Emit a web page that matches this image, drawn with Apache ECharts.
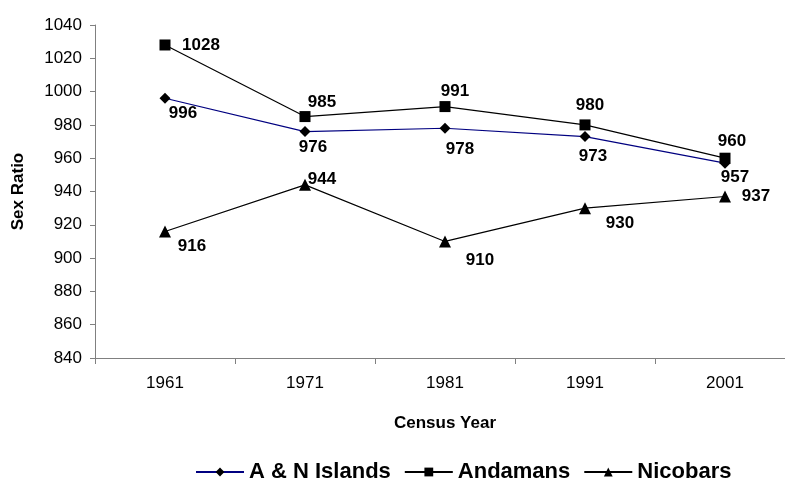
<!DOCTYPE html>
<html>
<head>
<meta charset="utf-8">
<script src="https://cdn.jsdelivr.net/npm/echarts@6/dist/echarts.min.js"></script>
<style>
  html, body { margin: 0; padding: 0; background: #fff; overflow: hidden; }
  #chart { width: 795px; height: 479px; }
</style>
</head>
<body>
<div id="chart"></div>
<script>
const years = ["1961", "1971", "1981", "1991", "2001"];
const anIslands = [996, 976, 978, 973, 957];
const andamans = [1028, 985, 991, 980, 960];
const nicobars = [916, 944, 910, 930, 937];

// label offsets (px) relative to each marker, as placed in the original
const anOffsets = [[18, 15], [8, 16], [15, 21], [8, 20], [10, 14]];
const andOffsets = [[36, 0], [17, -14], [10, -15], [5, -20], [7, -17]];
const nicOffsets = [[27, 15], [17, -6], [35, 19], [35, 15], [31, 0]];

const font = "Liberation Sans, Arial, sans-serif";
const labelStyle = { color: "#000", fontSize: 17, fontWeight: "bold", fontFamily: font };
const axisGrey = "#808080";

function withLabels(values, offsets) {
  return values.map((v, i) => ({
    value: v,
    label: { show: true, position: "inside", offset: offsets[i], ...labelStyle },
  }));
}

// the plot runs 10px past the window's right edge, like the original
const chart = echarts.init(document.getElementById("chart"));
chart.setOption({
  animation: false,
  grid: { left: 95, right: 0, top: 25, bottom: 121 },
  legend: {
    top: 456,
    left: 190,
    itemWidth: 48,
    itemHeight: 11,
    itemGap: 13,
    textStyle: { color: "#000", fontSize: 22, fontWeight: "bold", fontFamily: font },
  },
  xAxis: {
    type: "category",
    data: years,
    name: "Census Year",
    nameLocation: "middle",
    nameGap: 57,
    nameTextStyle: { color: "#000", fontSize: 17, fontWeight: "bold", fontFamily: font },
    axisLine: { lineStyle: { color: axisGrey } },
    axisTick: { show: true, alignWithLabel: false, length: 6, lineStyle: { color: axisGrey } },
    axisLabel: { color: "#000", fontSize: 17, margin: 17, fontFamily: font },
  },
  yAxis: {
    type: "value",
    min: 840,
    max: 1040,
    interval: 20,
    name: "Sex Ratio",
    nameLocation: "middle",
    nameGap: 68,
    nameTextStyle: { color: "#000", fontSize: 17, fontWeight: "bold", fontFamily: font },
    axisLine: { show: true, lineStyle: { color: axisGrey } },
    axisTick: { show: true, length: 5, lineStyle: { color: axisGrey } },
    axisLabel: { color: "#000", fontSize: 17, margin: 13, fontFamily: font, formatter: (v) => String(v) },
    splitLine: { show: false },
  },
  series: [
    {
      name: "A & N Islands",
      type: "line",
      data: withLabels(anIslands, anOffsets),
      symbol: "diamond",
      symbolSize: 11,
      lineStyle: { color: "#000080", width: 1.2 },
      itemStyle: { color: "#000" },
    },
    {
      name: "Andamans",
      type: "line",
      data: withLabels(andamans, andOffsets),
      symbol: "rect",
      symbolSize: 11,
      lineStyle: { color: "#000", width: 1.2 },
      itemStyle: { color: "#000" },
    },
    {
      name: "Nicobars",
      type: "line",
      data: withLabels(nicobars, nicOffsets),
      symbol: "triangle",
      symbolSize: 12,
      lineStyle: { color: "#000", width: 1.2 },
      itemStyle: { color: "#000" },
    },
  ],
});
</script>
</body>
</html>
